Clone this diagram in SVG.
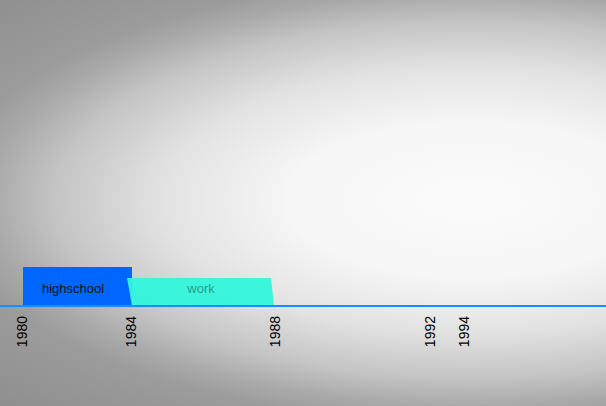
<svg xmlns="http://www.w3.org/2000/svg" width="606" height="406" viewBox="0 0 606 406">
<defs>
<radialGradient id="bg" cx="0" cy="0" r="1" gradientUnits="userSpaceOnUse" gradientTransform="translate(470,200) scale(676,290)">
<stop offset="0" stop-color="#fbfbfb"/>
<stop offset="0.27" stop-color="#f6f6f6"/>
<stop offset="0.46" stop-color="#e2e2e2"/>
<stop offset="0.615" stop-color="#c4c4c4"/>
<stop offset="0.71" stop-color="#a9a9a9"/>
<stop offset="0.77" stop-color="#9c9c9c"/>
<stop offset="1" stop-color="#8e8e8e"/>
</radialGradient>
<style>
.lbl{font-family:"Liberation Sans",Arial,sans-serif;font-size:14px;fill:#000;text-anchor:end}
.bar{font-family:"Liberation Sans",Arial,sans-serif;font-size:13px;text-anchor:middle}
</style>
</defs>
<rect width="606" height="406" fill="url(#bg)"/>
<g id="highschool">
<rect x="23" y="267" width="109" height="39" fill="#0066ff"/>
<text class="bar" x="73" y="293" fill="#111">highschool</text>
</g>
<g id="work">
<polygon points="127,278 271,278 274,306 132,306" fill="#33f5dc" fill-opacity="0.95"/>
<text class="bar" x="201" y="293" fill="#2a9d8f">work</text>
</g>
<g id="connectors">
<line x1="0" y1="306" x2="606" y2="306" stroke="#1a8cff" stroke-width="2"/>
</g>
<g id="axis-labels">
<text class="lbl" transform="translate(27,316) rotate(-90)">1980</text>
<text class="lbl" transform="translate(136,316) rotate(-90)">1984</text>
<text class="lbl" transform="translate(280,316) rotate(-90)">1988</text>
<text class="lbl" transform="translate(435,316) rotate(-90)">1992</text>
<text class="lbl" transform="translate(469,316) rotate(-90)">1994</text>
</g>
</svg>
